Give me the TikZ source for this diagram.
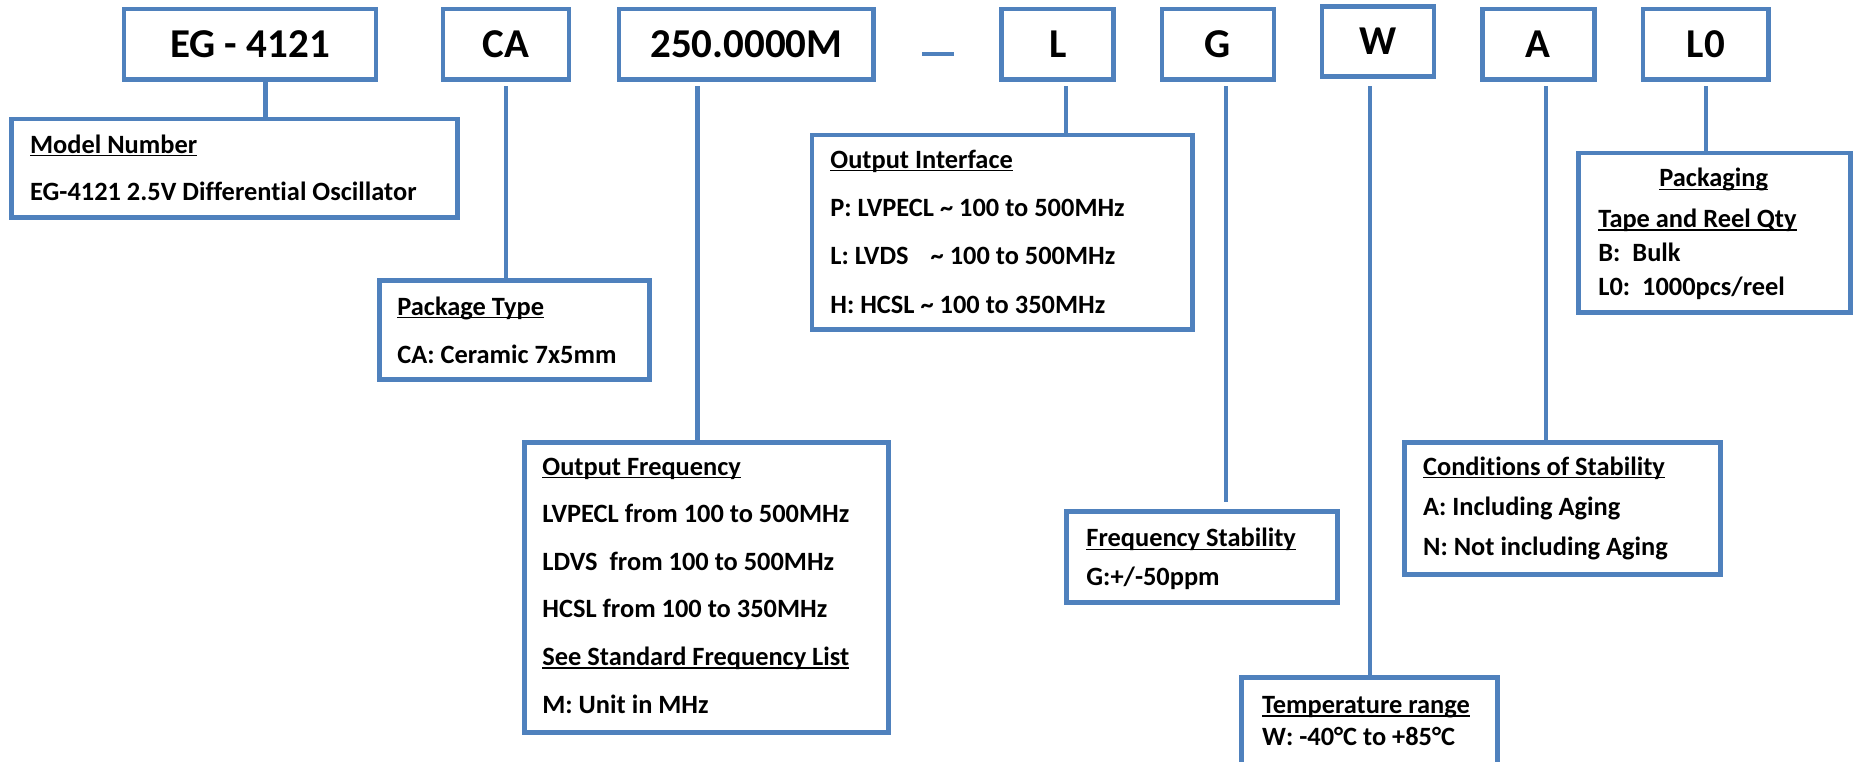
\documentclass[tikz,border=0pt]{standalone}
\usepackage{fontspec}
\setmainfont{Carlito}[Ligatures=NoCommon]
\definecolor{partblue}{HTML}{4F81BD}
\newsavebox{\undlbox}
\newcommand{\undl}[1]{\sbox{\undlbox}{#1}\rlap{\rule[-1.6pt]{\wd\undlbox}{0.6pt}}\usebox{\undlbox}}
\tikzset{codebox/.style={rectangle, draw=partblue, line width=2.3pt, minimum height=35.2pt, inner sep=0pt,
   font=\bfseries\fontsize{20.5}{24}\selectfont}}
\tikzset{infobox/.style={rectangle, draw=partblue, line width=2.3pt, inner sep=0pt}}
\tikzset{info/.style={anchor=base west, align=left, inner sep=0pt,
   font=\bfseries\fontsize{13.2}{#1}\selectfont}, info/.default=23.8}
\tikzset{link/.style={draw=partblue, line width=2.3pt}}

\begin{document}
\begin{tikzpicture}[x=0.5pt, y=-0.5pt]

    \useasboundingbox (0,0) rectangle (1856,761);
    \clip (0,0) rectangle (1856,761);

    % part number fields
    \node[codebox, minimum width=126pt]   (eg)   at (250,44.2)    {EG - 4121};
    \node[codebox, minimum width=63pt]    (ca)   at (506,44.2)    {CA};
    \node[codebox, minimum width=127.35pt] (freq) at (746.4,44.2) {250.0000M};
    \node[fill=partblue, minimum width=15.85pt, minimum height=2.15pt, inner sep=0pt] (dash) at (938.15,53.85) {};
    \node[codebox, minimum width=56pt]    (l)    at (1057.7,44.2) {L};
    \node[codebox, minimum width=56pt]    (g)    at (1218,44.2)   {G};
    \node[codebox, minimum width=56pt]    (w)    at (1378,41.5)   {W};
    \node[codebox, minimum width=56pt]    (a)    at (1538.3,44.2) {A};
    \node[codebox, minimum width=62.85pt] (lo)   at (1705.85,44.2) {L0};

    % description boxes
    \node[infobox, minimum width=223.1pt, minimum height=49.35pt]  (model)   at (234.3,168.35)  {};
    \node[infobox, minimum width=134.95pt, minimum height=49.55pt] (pkg)     at (514.25,329.85) {};
    \node[infobox, minimum width=182.2pt, minimum height=145.2pt]  (outfreq) at (706.5,587.5)   {};
    \node[infobox, minimum width=190.25pt, minimum height=97.2pt]  (iface)   at (1002.15,232.2) {};
    \node[infobox, minimum width=135.7pt, minimum height=45.55pt]  (fstab)   at (1202,557.15)   {};
    \node[infobox, minimum width=128.05pt, minimum height=44.35pt] (temp)    at (1369.65,721.65) {};
    \node[infobox, minimum width=157.95pt, minimum height=66.05pt] (cond)    at (1562.25,508.35) {};
    \node[infobox, minimum width=136.05pt, minimum height=79.85pt] (pack)    at (1714.35,232.85) {};

    % texts (placed at the baseline of their last line)
    \node[info=23.5] (model-t) at (29.7,200) {\undl{Model Number}\\EG-4121 2.5V Differential Oscillator};
    \node[info=24] (pkg-t) at (397,363) {\undl{Package Type}\\CA: Ceramic 7x5mm};
    \node[info] (outfreq-t) at (542,713) {\undl{Output Frequency}\\LVPECL from 100 to 500MHz\\LDVS\ \ from 100 to 500MHz\\HCSL from 100 to 350MHz\\\undl{See Standard Frequency List}\\M: Unit in MHz};
    \node[info=24.15] (iface-t) at (830,313) {\undl{Output Interface}\\P: LVPECL \textasciitilde{} 100 to 500MHz\\L: LVDS\hspace{11pt}\textasciitilde{} 100 to 500MHz\\H: HCSL \textasciitilde{} 100 to 350MHz};
    \node[info=19.15] (fstab-t) at (1086,585) {\undl{Frequency Stability}\\G:+/-50ppm};
    \node[info=15.85] (temp-t) at (1261.7,745) {\undl{Temperature range}\\W: -40°C to +85°C};
    \node[info=20] (cond-t) at (1422.7,555) {\undl{Conditions of Stability}\\A: Including Aging\\N: Not including Aging};
    \node[info, anchor=base] (pack-h) at (1713.7,186.7) {\undl{Packaging}};
    \node[info=16.9] (pack-t) at (1598,295) {\undl{Tape and Reel Qty}\\B:\ \ Bulk\\L0:\ \ 1000pcs/reel};

    % connectors
    \coordinate (tap) at (0,86);
    \coordinate (gend) at (1226,501.7);
    \draw[link] ([xshift=7.85pt]eg.south) -- ([xshift=7.85pt]eg.south |- model.north);
    \draw[link] (ca.south |- tap) -- (ca.south |- pkg.north);
    \draw[link] ([xshift=-24.45pt]freq.south |- tap) -- ([xshift=-24.45pt]freq.south |- outfreq.north);
    \draw[link] ([xshift=4.15pt]l.south |- tap) -- ([xshift=4.15pt]l.south |- iface.north);
    \draw[link] ([xshift=4pt]g.south |- tap) -- (gend);
    \draw[link] ([xshift=-4pt]w.south |- tap) -- ([xshift=-4pt]w.south |- temp.north);
    \draw[link] ([xshift=3.85pt]a.south |- tap) -- ([xshift=3.85pt]a.south |- cond.north);
    \draw[link] (lo.south |- tap) -- (lo.south |- pack.north);

\end{tikzpicture}
\end{document}
